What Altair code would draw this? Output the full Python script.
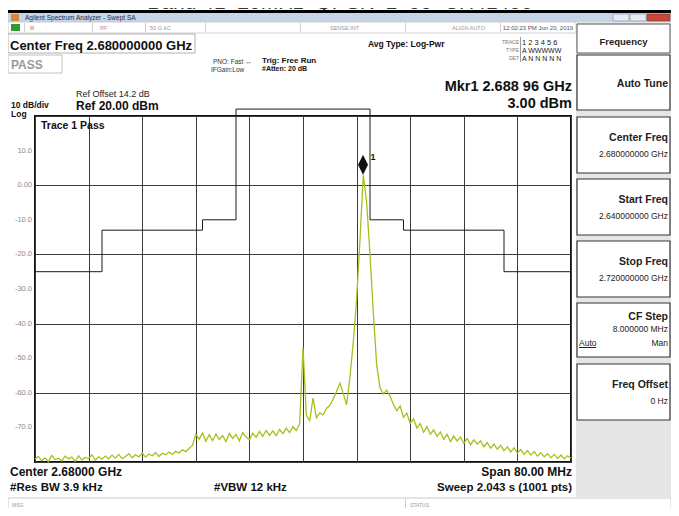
import altair as alt
import numpy as np
import pandas as pd

FONT = "Liberation Sans"

# ---------------- data ----------------
TITLE = "Band 41_20MHz_QPSK_1_99_CH41490"
FREQ_START, FREQ_STOP, FREQ_STEP = 2640.0, 2720.0, 0.5   # MHz

trace_a = [-79.2, -78.4, -79.6, -78.8, -79.9, -78.1, -79.3, -78.9, -79.7, -78.3,
           -79.1, -78.6, -79.8, -78.2, -79.4, -78.7, -79.0, -77.9, -79.5, -78.5, -79.2]
trace_b = [-78.3, -79.1, -78.0, -78.9, -77.8, -79.0, -78.4, -77.6, -78.8, -77.9,
           -78.5, -77.4, -78.6, -77.7, -78.2, -77.3, -78.4, -77.5, -77.9, -77.1]
trace_c = [-77.8, -76.9, -77.4, -76.5, -77.0, -76.1, -75.2, -72.0]
trace_d = [-73.4, -71.6, -74.0, -72.1, -73.8, -71.9, -73.5, -72.4, -74.1, -71.8,
           -73.2, -72.0, -73.9, -71.5, -72.8, -73.6, -71.7, -72.9, -71.2, -72.6,
           -70.9, -72.3, -71.0, -72.4, -70.6, -71.8, -70.2, -71.5, -69.8, -70.9, -69.0]
trace_e = [-47.0, -66.5, -68.0, -61.5, -67.2, -65.8, -66.4, -64.5, -63.7, -61.8,
           -59.6, -57.2, -60.1, -63.5, -55.5, -45.5, -33.0, -16.0, 3.0, -5.0,
           -20.0, -37.0, -52.0, -58.6, -60.3, -59.2, -61.0, -63.4, -65.2, -63.8,
           -67.1, -65.9, -68.8, -67.5, -70.2, -68.9, -71.4, -69.8, -72.0, -70.7, -72.6]
trace_f = [-71.3, -73.4, -72.0, -74.1, -72.5, -73.9, -72.8, -74.6, -73.2, -75.0,
           -73.6, -74.8, -73.9, -75.6, -74.4, -76.0, -74.8, -76.3, -75.2, -76.7,
           -75.6, -77.1, -75.9, -77.4, -76.4, -77.8, -76.7, -78.0, -77.0, -78.3,
           -77.3, -78.5, -77.6, -78.8, -77.8, -79.0, -78.0, -79.1, -78.2, -78.9]
trace_dbm = trace_a + trace_b + trace_c + trace_d + trace_e + trace_f

limit_freq = [2640, 2650, 2665, 2670, 2690, 2695, 2710, 2720]
limit_dbm = [-25, -13, -10, 22, -10, -13, -25, -25]

marker_freq = [2688.96]
marker_dbm = [3.00]
marker_name = ["1"]

x_grid = [2640, 2648, 2656, 2664, 2672, 2680, 2688, 2696, 2704, 2712, 2720]
y_grid = [-80, -70, -60, -50, -40, -30, -20, -10, 0, 10, 20]
y_ticks = [10, 0, -10, -20, -30, -40, -50, -60, -70]
y_labels = ["10.0", "0.00", "-10.0", "-20.0", "-30.0", "-40.0", "-50.0", "-60.0", "-70.0"]

softkeys = [("Auto Tune", ""), ("Center Freq", "2.680000000 GHz"), ("Start Freq", "2.640000000 GHz"),
            ("Stop Freq", "2.720000000 GHz"), ("CF Step", "8.000000 MHz"), ("Freq Offset", "0 Hz")]

freqs = np.round(np.arange(FREQ_START, FREQ_STOP + FREQ_STEP / 2, FREQ_STEP), 2)
assert len(freqs) == len(trace_dbm), (len(freqs), len(trace_dbm))

trace_df = pd.DataFrame({"f": freqs, "v": trace_dbm})
limit_df = pd.DataFrame({"f": limit_freq, "v": limit_dbm})
marker_df = pd.DataFrame({"f": marker_freq, "v": marker_dbm, "n": marker_name})
ylab_df = pd.DataFrame({"v": y_ticks, "t": y_labels})

# ---------------- layout ----------------
OX, OY = 35, 116          # page position of the graticule's top-left corner
PW, PH = 536, 346
RIGHT = 671               # right edge of the drawing on the page
one = pd.DataFrame({"k": [0]})

xs = alt.Scale(domain=[FREQ_START, FREQ_STOP], nice=False, zero=False)
ys = alt.Scale(domain=[-80, 20], nice=False, zero=False)


def rect(x1, y1, x2, y2, fill="white", stroke=None, sw=1.0, opacity=1.0):
    kw = dict(fill=fill, fillOpacity=opacity)
    if stroke:
        kw.update(stroke=stroke, strokeWidth=sw)
    return alt.Chart(one).mark_rect(**kw).encode(
        x=alt.value(x1 - OX), x2=alt.value(x2 - OX),
        y=alt.value(y1 - OY), y2=alt.value(y2 - OY))


def text(s, x, y, size=10, bold=False, align="left", color="#111", baseline="alphabetic"):
    return alt.Chart(one).mark_text(
        text=s, fontSize=size, fontWeight="bold" if bold else "normal", align=align,
        baseline=baseline, color=color, font=FONT).encode(
        x=alt.value(x - OX), y=alt.value(y - OY))


layers = []
# title (cut off at top like the screenshot)
layers.append(text(TITLE, 340, 9, 21, align="center", color="#333"))
layers.append(rect(8, 10, RIGHT, 13, fill="#000"))
# window title bar
layers.append(rect(8, 13, RIGHT, 22, fill="#c7d4e7"))
layers.append(rect(11, 14, 19, 21, fill="#d08a3a"))
layers.append(text("Agilent Spectrum Analyzer - Swept SA", 25, 20, 6.5, color="#1c2a44"))
layers.append(rect(613, 14, 629, 21, fill="#e3eaf3", stroke="#8a9ab0", sw=0.7))
layers.append(rect(630, 14, 646, 21, fill="#e3eaf3", stroke="#8a9ab0", sw=0.7))
layers.append(rect(647, 14, 670, 21, fill="#c9463d", stroke="#8a3a30", sw=0.7))
# status row
layers.append(rect(8, 22, 576, 33, fill="white", stroke="#c4c4c4", sw=0.8))
for xd in [24, 92, 145, 205, 300, 405, 500]:
    layers.append(rect(xd, 23, xd + 1, 32, fill="#d0d0d0"))
layers.append(rect(11, 24, 20, 31, fill="#2f9a2f"))
layers.append(text("R", 30, 30, 6, color="#8a8a8a"))
layers.append(text("RF", 100, 30, 5.5, color="#9a9a9a"))
layers.append(text("50 Ω  AC", 150, 30, 5.5, color="#9a9a9a"))
layers.append(text("SENSE:INT", 330, 30, 5.5, color="#9a9a9a"))
layers.append(text("ALIGN AUTO", 452, 30, 5.5, color="#9a9a9a"))
layers.append(text("12:02:23 PM Jun 20, 2019", 538, 30, 6, align="center", color="#555"))
# top annotation block
layers.append(rect(8, 34, 195, 53, fill="white", stroke="#a0a0a0", sw=0.8))
layers.append(text("Center Freq 2.680000000 GHz", 10, 50, 13, bold=True))
layers.append(rect(8, 55, 62, 73, fill="white", stroke="#b0b0b0", sw=0.8))
layers.append(text("PASS", 11, 69, 12, bold=True, color="#9a9a9a"))
layers.append(text("PNO: Fast ↔", 213, 64, 6.5, color="#333"))
layers.append(text("IFGain:Low", 211, 72, 6.5, color="#333"))
layers.append(text("Trig: Free Run", 262, 63, 8, bold=True))
layers.append(text("#Atten: 20 dB", 262, 71, 7, bold=True))
layers.append(text("Avg Type: Log-Pwr", 368, 47, 8.5, bold=True))
layers.append(text("TRACE", 519, 44, 5, align="right", color="#777"))
layers.append(text("TYPE", 519, 52, 5, align="right", color="#777"))
layers.append(text("DET", 519, 60, 5, align="right", color="#777"))
layers.append(rect(520, 37, 521, 62, fill="#999"))
layers.append(text("1 2 3 4 5 6", 522, 45, 7.5, color="#222"))
layers.append(text("A WWWWW", 522, 53, 7, color="#222"))
layers.append(text("A N N N N N", 522, 61, 7, color="#222"))
layers.append(text("Mkr1 2.688 96 GHz", 572, 91, 14.5, bold=True, align="right"))
layers.append(text("3.00 dBm", 572, 107.5, 14.5, bold=True, align="right"))
layers.append(text("Ref Offset 14.2 dB", 76, 97, 9, color="#222"))
layers.append(text("Ref 20.00 dBm", 76, 110, 12, bold=True))
layers.append(text("10 dB/div", 11, 108, 8.5, bold=True))
layers.append(text("Log", 11, 117, 8.5, bold=True))
# bottom annotation block
layers.append(text("Center 2.68000 GHz", 10, 476, 12, bold=True))
layers.append(text("#Res BW 3.9 kHz", 10, 491, 11.5, bold=True))
layers.append(text("#VBW 12 kHz", 214, 491, 11.5, bold=True))
layers.append(text("Span 80.00 MHz", 572, 476, 12, bold=True, align="right"))
layers.append(text("Sweep  2.043 s (1001 pts)", 572, 491, 11.5, bold=True, align="right"))
layers.append(rect(8, 498, RIGHT, 512, fill="white", stroke="#bdbdbd", sw=0.8))
layers.append(rect(405, 499, 406, 511, fill="#cfcfcf"))
layers.append(text("MSG", 12, 507, 5, color="#9a9a9a"))
layers.append(text("STATUS", 410, 507, 5, color="#9a9a9a"))
# softkey panel
KX1, KX2 = 577, 670
layers.append(rect(576, 22, RIGHT, 497, fill="#e6e6e6"))
layers.append(rect(KX1, 24, KX2, 53, fill="white", stroke="#555", sw=1))
layers.append(text("Frequency", (KX1 + KX2) / 2, 45, 9.5, bold=True, align="center", color="#222"))
key_boxes = [(55, 110), (117, 173), (179, 235), (241, 297), (303, 357), (364, 420)]
TX = KX2 - 2
for (y1, y2), (title, val) in zip(key_boxes, softkeys):
    layers.append(rect(KX1, y1, KX2, y2, fill="white", stroke="#333", sw=1.2))
    if not val:
        layers.append(text(title, TX, (y1 + y2) / 2 + 4, 10.5, bold=True, align="right", color="#222"))
    elif title == "CF Step":
        layers.append(text(title, TX, y1 + 17, 10.5, bold=True, align="right", color="#222"))
        layers.append(text(val, TX, y1 + 29, 8.5, align="right", color="#222"))
        layers.append(text("Auto", KX1 + 2, y1 + 43, 8.5, color="#222"))
        layers.append(rect(KX1 + 2, y1 + 44, KX1 + 19, y1 + 45, fill="#222"))
        layers.append(text("Man", TX, y1 + 43, 8.5, align="right", color="#222"))
    else:
        layers.append(text(title, TX, y1 + 24, 10.5, bold=True, align="right", color="#222"))
        layers.append(text(val, TX, y1 + 40, 8.5, align="right", color="#222"))

# ---------------- graticule + data ----------------
grid_axis = dict(grid=True, labels=False, ticks=False, domain=False, title=None,
                 gridColor="#3a3a3a", gridWidth=1, gridOpacity=1)

trace = alt.Chart(trace_df).mark_line(color="#a8bf1c", strokeWidth=1.3).encode(
    x=alt.X("f:Q", scale=xs, axis=alt.Axis(values=x_grid, **grid_axis)),
    y=alt.Y("v:Q", scale=ys, axis=alt.Axis(values=y_grid, **grid_axis)),
)

limit = alt.Chart(limit_df).mark_line(color="#1a1a1a", strokeWidth=1, interpolate="step-after",
                                      clip=False).encode(
    x=alt.X("f:Q", scale=xs), y=alt.Y("v:Q", scale=ys))

ylabels = alt.Chart(ylab_df).mark_text(align="right", baseline="middle", fontSize=7.5,
                                       color="#8a8a8a", font=FONT).encode(
    x=alt.value(-3), y=alt.Y("v:Q", scale=ys), text="t:N")

marker = alt.Chart(marker_df).mark_point(
    shape="M0,-1L0.5,0L0,1L-0.5,0Z", size=400, filled=True, color="#111", opacity=1,
    yOffset=-10).encode(x=alt.X("f:Q", scale=xs), y=alt.Y("v:Q", scale=ys))

marker_lbl = alt.Chart(marker_df).mark_text(
    fontSize=9, fontWeight="bold", font=FONT, color="#111", dx=10, dy=-18).encode(
    x=alt.X("f:Q", scale=xs), y=alt.Y("v:Q", scale=ys), text="n:N")

trace_lbl = text("Trace 1 Pass", 41, 129, 10.5, bold=True)

chart = alt.layer(trace, *layers, limit, ylabels, marker, marker_lbl, trace_lbl).properties(
    width=PW, height=PH,
    autosize=alt.AutoSizeParams(type="none"),
    padding={"left": OX - 8, "top": OY - 8, "right": RIGHT - OX - PW, "bottom": 508 - OY - PH},
    background="white",
).configure_view(stroke="#111", strokeWidth=2)

chart.save("out.html", embed_options={"renderer": "svg", "actions": False})
